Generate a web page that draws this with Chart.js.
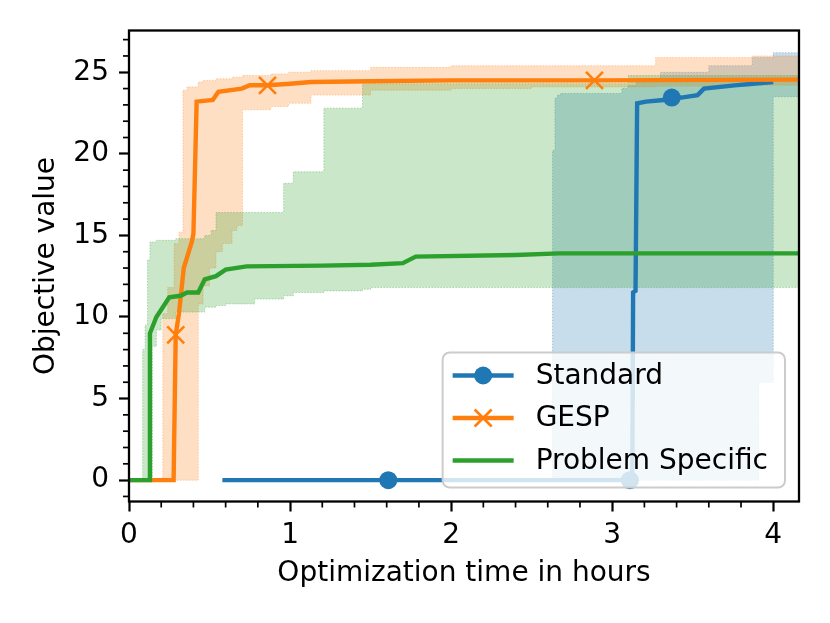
<!DOCTYPE html>
<html>
<head>
<meta charset="utf-8">
<script src="https://cdn.jsdelivr.net/npm/chart.js@4/dist/chart.umd.min.js"></script>
<style>
body{margin:0;background:#fff;}
#wrap{width:830px;height:623px;}
</style>
</head>
<body>
<div id="wrap"><canvas id="chart" width="830" height="623"></canvas></div>
<script>

// ---------- DATA ----------

const seriesNames = ["Standard", "GESP", "Problem Specific"];

// mean curves, x in hours
const stdTime  = [0.58, 1.61, 3.11, 3.125, 3.13, 3.145, 3.155, 3.21, 3.32, 3.37, 3.43, 3.53, 3.57, 3.76, 4.0];
const stdMean  = [0, 0, 0, 0, 11.5, 11.6, 23.1, 23.2, 23.3, 23.45, 23.45, 23.6, 24.0, 24.2, 24.4];
const stdMarks = [1, 2, 9];

const gespTime  = [0, 0.277, 0.29, 0.31, 0.34, 0.39, 0.40, 0.42, 0.52, 0.555, 0.70, 0.75, 0.86, 1.0, 1.13, 1.5, 2.0, 2.89, 4.2];
const gespMean  = [0, 0, 8.9, 10.2, 13.0, 14.6, 15.1, 23.2, 23.3, 23.8, 24.0, 24.2, 24.2, 24.3, 24.4, 24.45, 24.5, 24.5, 24.55];
const gespMarks = [2, 12, 17];

const psTime = [0, 0.125, 0.13, 0.17, 0.21, 0.25, 0.32, 0.36, 0.43, 0.47, 0.54, 0.60, 0.73, 1.2, 1.5, 1.7, 1.78, 2.4, 2.67, 4.2];
const psMean = [0, 0, 9.0, 10.0, 10.6, 11.2, 11.3, 11.5, 11.5, 12.3, 12.5, 12.9, 13.1, 13.15, 13.2, 13.3, 13.7, 13.8, 13.9, 13.9];

// shaded bands (value holds from each x until the next one)
const stdBandX    = [0.58, 2.63, 2.645, 2.66, 2.68, 3.06, 3.10, 3.15, 3.30, 3.60, 3.87, 3.91, 4.00, 4.20];
const stdBandLow  = [0, 0, 0, 0, 0, 0, 0, 0, 0, 0, 0, 6.0, 23.5, 23.5];
const stdBandHigh = [0, 20.2, 23.4, 23.6, 23.7, 24.0, 24.2, 24.6, 25.0, 25.4, 25.9, 25.9, 26.2, 26.2];

const gespBandX    = [0, 0.21, 0.24, 0.28, 0.31, 0.335, 0.36, 0.43, 0.46, 0.50, 0.54, 0.58, 0.64, 0.67, 0.705, 0.88, 0.99, 1.13, 1.5, 2.0, 2.5, 3.27, 3.87, 4.2];
const gespBandLow  = [0, 0, 0, 0, 0, 0, 0, 10.8, 11.9, 13.0, 14.0, 14.5, 15.3, 15.6, 22.7, 22.9, 23.1, 23.6, 23.9, 24.0, 24.1, 24.15, 24.2, 24.2];
const gespBandHigh = [0, 10.2, 11.8, 14.5, 15.2, 23.9, 24.1, 24.4, 24.5, 24.5, 24.6, 24.6, 24.7, 24.7, 24.8, 24.9, 25.0, 25.1, 25.3, 25.4, 25.4, 25.9, 26.0, 26.0];

const psBandX    = [0, 0.085, 0.10, 0.115, 0.13, 0.145, 0.17, 0.20, 0.29, 0.47, 0.51, 0.54, 0.60, 0.78, 0.96, 1.02, 1.21, 1.45, 1.5, 3.10, 4.2];
const psBandLow  = [0, 0, 0, 0, 0, 8.2, 9.2, 9.9, 10.3, 10.6, 10.6, 10.7, 10.8, 11.1, 11.3, 11.5, 11.6, 11.7, 11.8, 11.8, 11.8];
const psBandHigh = [0, 8.0, 9.5, 13.5, 14.6, 14.6, 14.7, 14.7, 14.8, 15.0, 15.3, 16.4, 16.4, 16.4, 18.2, 18.9, 22.8, 24.3, 24.3, 24.8, 24.8];

// axis ticks
const xTicks = [0, 1, 2, 3, 4];
const yTicks = [0, 5, 10, 15, 20, 25];


// ---------- HELPERS ----------

const BLUE = "#1f77b4", ORANGE = "#ff7f0e", GREEN = "#2ca02c";

function rgba(hex, a){
let n = parseInt(hex.slice(1), 16);
return "rgba(" + (n >> 16) + "," + ((n >> 8) & 255) + "," + (n & 255) + "," + a + ")";
}

function pts(xs, ys){
return xs.map((x, i) => ({x: x, y: ys[i]}));
}

// turn step data into corner points so the fill follows the steps exactly
function stepPts(xs, ys){
let out = [];
xs.forEach((x, i) => {
if(i > 0) out.push({x: x, y: ys[i - 1]});
out.push({x: x, y: ys[i]});
});
return out;
}

function meanLine(label, xs, ys, color, marks, style, radius, order){
return {
label: label,
data: pts(xs, ys),
borderColor: color,
backgroundColor: color,
borderWidth: 4.4,
pointStyle: style,
pointRadius: ctx => marks.includes(ctx.dataIndex) ? radius : 0,
pointBorderWidth: style === "circle" ? 0 : 2.6,
pointBorderColor: color,
pointBackgroundColor: color,
tension: 0,
clip: 0,
order: order
};
}

function bandEdge(xs, ys, color, fillNext, order){
return {
label: "",
data: stepPts(xs, ys),
borderColor: rgba(color, 0.35),
borderWidth: 1,
borderDash: [1.5, 1.5],
backgroundColor: rgba(color, 0.25),
fill: fillNext ? "+1" : false,
pointRadius: 0,
tension: 0,
clip: 0,
order: order
};
}


// ---------- PLUGIN: frame, minor ticks, legend ----------

const framePlugin = {
id: "frame",
afterDatasetsDraw(chart){
let ctx = chart.ctx;
let a = chart.chartArea;
let xs = chart.scales.x, ys = chart.scales.y;

ctx.save();
ctx.strokeStyle = "#000";

// minor ticks
ctx.lineWidth = 1.7;
for(let i = 0; i <= 20; i++){
let v = i * 0.2;
if(i % 5 === 0 || v > xs.max) continue;
let px = xs.getPixelForValue(v);
ctx.beginPath(); ctx.moveTo(px, a.bottom); ctx.lineTo(px, a.bottom + 6); ctx.stroke();
}
for(let v = -1; v <= 27; v++){
if(v % 5 === 0) continue;
let py = ys.getPixelForValue(v);
ctx.beginPath(); ctx.moveTo(a.left, py); ctx.lineTo(a.left - 6, py); ctx.stroke();
}

// frame
ctx.lineWidth = 2.3;
ctx.strokeRect(a.left, a.top, a.right - a.left, a.bottom - a.top);

// legend, lower right
let items = chart.data.datasets.filter(d => d.label);
ctx.font = "28px 'DejaVu Sans'";
let tw = Math.max(...items.map(d => ctx.measureText(d.label).width));
let w = tw + 93 + 17, h = 135;
let right = a.right - 14, bottom = a.bottom - 14;
let left = right - w, top = bottom - h;

ctx.beginPath();
ctx.roundRect(left, top, w, h, 7);
ctx.fillStyle = "rgba(255,255,255,0.8)";
ctx.fill();
ctx.lineWidth = 2;
ctx.strokeStyle = "#cccccc";
ctx.stroke();

items.forEach((d, i) => {
let y = top + 23 + i * 42.5;
ctx.strokeStyle = d.borderColor;
ctx.lineWidth = 4.4;
ctx.beginPath(); ctx.moveTo(left + 10, y); ctx.lineTo(left + 71, y); ctx.stroke();
let mx = left + 40.5;
if(d.pointStyle === "circle"){
ctx.fillStyle = d.borderColor;
ctx.beginPath(); ctx.arc(mx, y, 9, 0, Math.PI * 2); ctx.fill();
}
if(d.pointStyle === "crossRot"){
ctx.lineWidth = 2.6;
let r = 8.5;
ctx.beginPath();
ctx.moveTo(mx - r, y - r); ctx.lineTo(mx + r, y + r);
ctx.moveTo(mx - r, y + r); ctx.lineTo(mx + r, y - r);
ctx.stroke();
}
ctx.fillStyle = "#000";
ctx.textBaseline = "middle";
ctx.textAlign = "left";
ctx.fillText(d.label, left + 93, y + 1);
});

ctx.restore();
}
};


// ---------- CHART ----------

function createChart(){

Chart.defaults.font.family = "'DejaVu Sans'";
Chart.defaults.font.size = 28;
Chart.defaults.color = "#000";

new Chart(document.getElementById("chart"), {

type: "line",

data: {
datasets: [
meanLine(seriesNames[0], stdTime, stdMean, BLUE, stdMarks, "circle", 9, 3),
meanLine(seriesNames[1], gespTime, gespMean, ORANGE, gespMarks, "crossRot", 12, 2),
meanLine(seriesNames[2], psTime, psMean, GREEN, [], "line", 0, 1),
bandEdge(stdBandX, stdBandHigh, BLUE, true, 30),
bandEdge(stdBandX, stdBandLow, BLUE, false, 30),
bandEdge(gespBandX, gespBandHigh, ORANGE, true, 20),
bandEdge(gespBandX, gespBandLow, ORANGE, false, 20),
bandEdge(psBandX, psBandHigh, GREEN, true, 10),
bandEdge(psBandX, psBandLow, GREEN, false, 10)
]
},

options: {
responsive: false,
animation: false,
events: [],
layout: { padding: { left: 0, top: 30.5, right: 31, bottom: 0 } },
plugins: { legend: { display: false }, tooltip: { enabled: false } },
scales: {
x: {
type: "linear",
min: 0,
max: 4.16,
afterFit: s => { s.height = 121.5; },
afterBuildTicks: s => { s.ticks = xTicks.map(v => ({value: v})); },
ticks: { padding: 7, maxRotation: 0 },
grid: { drawOnChartArea: false, tickLength: 10, tickWidth: 2.2, tickColor: "#000" },
border: { display: false },
title: { display: true, text: "Optimization time in hours", padding: { top: 0, bottom: 32 } }
},
y: {
type: "linear",
min: -1.31,
max: 27.56,
afterFit: s => { s.width = 129; },
afterBuildTicks: s => { s.ticks = yTicks.map(v => ({value: v})); },
ticks: { padding: 10 },
grid: { drawOnChartArea: false, tickLength: 10, tickWidth: 2.2, tickColor: "#000" },
border: { display: false },
title: { display: true, text: "Objective value", padding: { top: 30, bottom: 0 } }
}
}
},

plugins: [framePlugin]

});

}

document.addEventListener("DOMContentLoaded", function(){
createChart();
});

</script>
</body>
</html>
